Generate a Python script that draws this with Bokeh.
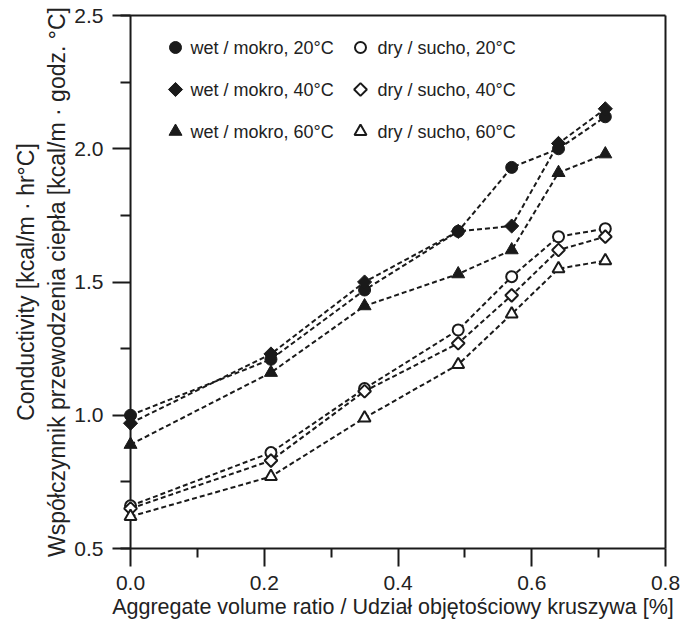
import math
from bokeh.plotting import figure
from bokeh.models import (Range1d, LinearAxis, FixedTicker, PrintfTickFormatter, Span)
from bokeh.core.properties import value
from bokeh.embed import file_html
from bokeh.resources import INLINE

# ---- data ----
ratio = [0.0, 0.21, 0.35, 0.49, 0.57, 0.64, 0.71]
wet_20 = [1.00, 1.21, 1.47, 1.69, 1.93, 2.00, 2.12]
wet_40 = [0.97, 1.23, 1.50, 1.69, 1.71, 2.02, 2.15]
wet_60 = [0.89, 1.16, 1.41, 1.53, 1.62, 1.91, 1.98]
dry_20 = [0.66, 0.86, 1.10, 1.32, 1.52, 1.67, 1.70]
dry_40 = [0.65, 0.83, 1.09, 1.27, 1.45, 1.62, 1.67]
dry_60 = [0.62, 0.77, 0.99, 1.19, 1.38, 1.55, 1.58]

labels_wet = ["wet / mokro, 20°C", "wet / mokro, 40°C", "wet / mokro, 60°C"]
labels_dry = ["dry / sucho, 20°C", "dry / sucho, 40°C", "dry / sucho, 60°C"]

x_ticks = [0.0, 0.2, 0.4, 0.6, 0.8]
x_minor = [0.1, 0.3, 0.5, 0.7]
y_ticks = [0.5, 1.0, 1.5, 2.0, 2.5]
y_minor = [0.75, 1.25, 1.75, 2.25]

x_title = "Aggregate volume ratio / Udział objętościowy kruszywa [%]"
y_title = "Conductivity [kcal/m · hr°C]\nWspółczynnik przewodzenia ciepła [kcal/m · godz. °C]"

# ---- layout / style constants ----
BLACK = "#1a1a1a"
TEXT = "#222222"
FONT = "Liberation Sans"
W, H = 696, 625
BL, BR, BT, BB = 120, 31, 15, 77          # borders around the frame
FW, FH = W - BL - BR, H - BT - BB          # frame size in pixels
LEG_COL_MARK = [55, 240]                   # legend marker x (px from frame left)
LEG_COL_TEXT = [70, 257]                   # legend text x
LEG_ROWS = [32, 74, 116]                   # legend row y (px from frame top)

p = figure(width=W, height=H, x_range=Range1d(-0.015, 0.8), y_range=Range1d(0.5, 2.5),
           output_backend="svg", toolbar_location=None,
           x_axis_type=None, y_axis_type=None,
           min_border_left=BL, min_border_right=BR, min_border_top=BT, min_border_bottom=BB)
p.outline_line_color = None
p.background_fill_color = "white"
p.border_fill_color = "white"
# pixel-based ranges used only to place the legend
p.extra_x_ranges = {"px": Range1d(0, FW)}
p.extra_y_ranges = {"px": Range1d(FH, 0)}


def style_axis(ax):
    ax.axis_line_color = BLACK
    ax.axis_line_width = 2
    ax.major_tick_line_color = BLACK
    ax.major_tick_line_width = 2
    ax.minor_tick_line_color = BLACK
    ax.minor_tick_line_width = 2
    ax.major_tick_in = 0
    ax.minor_tick_in = 0
    ax.major_tick_out = 18
    ax.minor_tick_out = 9
    ax.major_label_text_font = FONT
    ax.major_label_text_font_size = "21px"
    ax.major_label_text_color = TEXT
    ax.axis_label_text_font = FONT
    ax.axis_label_text_font_style = "normal"
    ax.axis_label_text_color = TEXT


xaxis = LinearAxis(ticker=FixedTicker(ticks=x_ticks, minor_ticks=x_minor),
                   formatter=PrintfTickFormatter(format="%.1f"),
                   axis_label=x_title)
style_axis(xaxis)
xaxis.axis_label_text_font_size = "21.5px"
xaxis.major_label_standoff = 9
xaxis.axis_label_standoff = 2
p.add_layout(xaxis, "below")

# left axis sits at the frame edge (x=-0.015); ticks reach into x=0 where the axis line is drawn
yaxis = LinearAxis(ticker=FixedTicker(ticks=y_ticks, minor_ticks=y_minor),
                   formatter=PrintfTickFormatter(format="%.1f"),
                   axis_label=y_title)
style_axis(yaxis)
yaxis.axis_line_color = None
yaxis.major_tick_out = 8
yaxis.major_tick_in = 10
yaxis.minor_tick_out = 0
yaxis.minor_tick_in = 10
yaxis.axis_label_text_font_size = "23px"
yaxis.major_label_standoff = 9
yaxis.axis_label_standoff = 1
p.add_layout(yaxis, "left")

p.add_layout(Span(location=0, dimension="height", line_color=BLACK, line_width=2,
                  level="underlay"))

for side in ("above", "right"):
    ax = LinearAxis(ticker=FixedTicker(ticks=[], minor_ticks=[]))
    ax.axis_line_color = BLACK
    ax.axis_line_width = 2
    ax.major_tick_out = 0
    ax.minor_tick_out = 0
    ax.major_label_text_font_size = "0px"
    p.add_layout(ax, side)

series = [
    (wet_20, "circle", 0, BLACK, 12),
    (wet_40, "square", math.pi / 4, BLACK, 10),
    (wet_60, "triangle", 0, BLACK, 13),
    (dry_20, "circle", 0, "white", 11),
    (dry_40, "square", math.pi / 4, "white", 9),
    (dry_60, "triangle", 0, "white", 12),
]

for ys, *_ in series:
    p.line(ratio, ys, line_color=BLACK, line_width=2, line_dash="5 3")

for ys, mk, ang, fill, sz in series:
    p.scatter(ratio, ys, marker=mk, angle=ang, size=sz, fill_color=fill,
              line_color=BLACK, line_width=2 if fill == "white" else 1)

# ---- legend (two columns, drawn in frame pixel units) ----
for col, labels, group in ((0, labels_wet, series[:3]), (1, labels_dry, series[3:])):
    for row, (lab, (_, mk, ang, fill, sz)) in enumerate(zip(labels, group)):
        p.scatter([LEG_COL_MARK[col]], [LEG_ROWS[row]], marker=mk, angle=ang, size=sz,
                  fill_color=fill, line_color=BLACK,
                  line_width=2 if fill == "white" else 1,
                  x_range_name="px", y_range_name="px")
    p.text(x=[LEG_COL_TEXT[col]] * 3, y=LEG_ROWS, text=labels,
           text_font=value(FONT), text_font_size="18px", text_color=TEXT,
           text_baseline="middle", text_align="left",
           x_range_name="px", y_range_name="px")

open("out.html", "w").write(file_html(p, INLINE))
